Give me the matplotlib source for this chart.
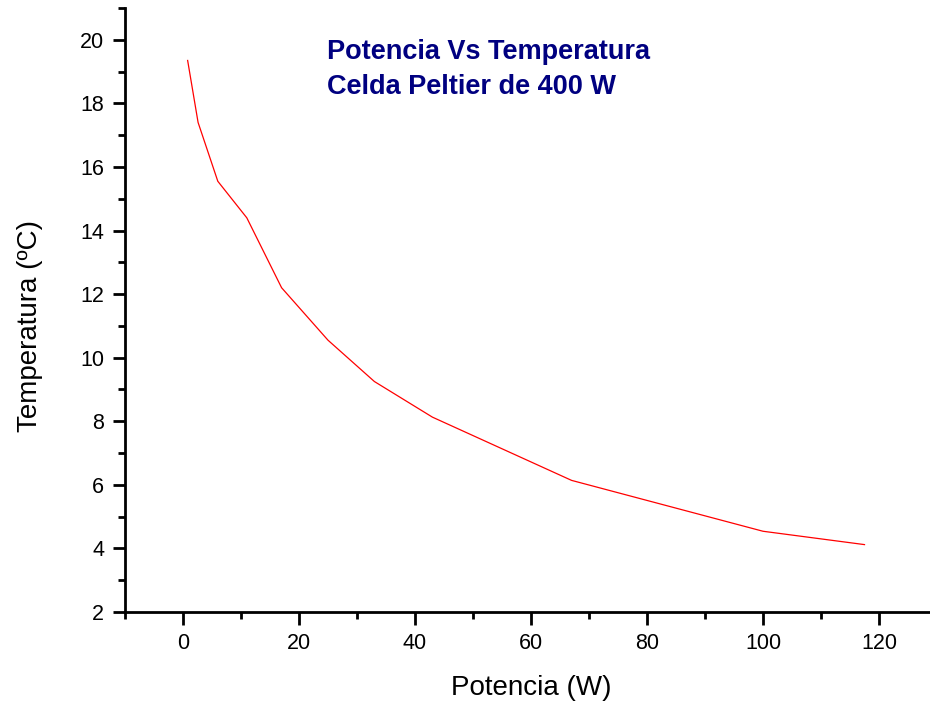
import matplotlib
matplotlib.use("Agg")
import matplotlib.pyplot as plt
from matplotlib.ticker import MultipleLocator

potencia = [0.8, 2.6, 6.0, 11.0, 17.0, 25.0, 33.0, 43.0, 67.0, 100.0, 117.5]
temperatura = [19.35, 17.4, 15.55, 14.4, 12.2, 10.55, 9.25, 8.13, 6.14, 4.54, 4.12]

x_ticks = [0, 20, 40, 60, 80, 100, 120]
y_ticks = [2, 4, 6, 8, 10, 12, 14, 16, 18, 20]

plt.rcParams['font.family'] = ['Liberation Sans', 'DejaVu Sans']

fig = plt.figure(figsize=(9.3, 7.04), dpi=100)
ax = fig.add_axes([125/930, 92/704, 812/930, 604/704])

ax.plot(potencia, temperatura, color='#ff0000', linewidth=0.9)

ax.set_xlim(-10, 130)
ax.set_ylim(2, 21)
ax.set_xticks(x_ticks)
ax.set_yticks(y_ticks)
ax.xaxis.set_minor_locator(MultipleLocator(10))
ax.yaxis.set_minor_locator(MultipleLocator(1))

for s in ['top', 'right']:
    ax.spines[s].set_visible(False)
for s in ['left', 'bottom']:
    ax.spines[s].set_linewidth(2)

ax.tick_params(which='major', direction='out', length=9, width=2, labelsize=15.5, pad=6)
ax.tick_params(which='minor', direction='out', length=5, width=2)

ax.set_xlabel('Potencia (W)', fontsize=20)
ax.set_ylabel('Temperatura (ºC)', fontsize=20)
ax.xaxis.set_label_coords((531 - 125) / 812, (612 - 688) / 604)
ax.xaxis.label.set_va('center')
ax.yaxis.set_label_coords((30 - 125) / 812, (612 - 326) / 604)
ax.yaxis.label.set_va('center')

fig.text(327/930, 1 - 52/704, 'Potencia Vs Temperatura', color='#000080',
         fontsize=19.5, fontweight='bold', va='center', ha='left')
fig.text(327/930, 1 - 87/704, 'Celda Peltier de 400 W', color='#000080',
         fontsize=19.5, fontweight='bold', va='center', ha='left')

fig.savefig('out.png', dpi=100)
